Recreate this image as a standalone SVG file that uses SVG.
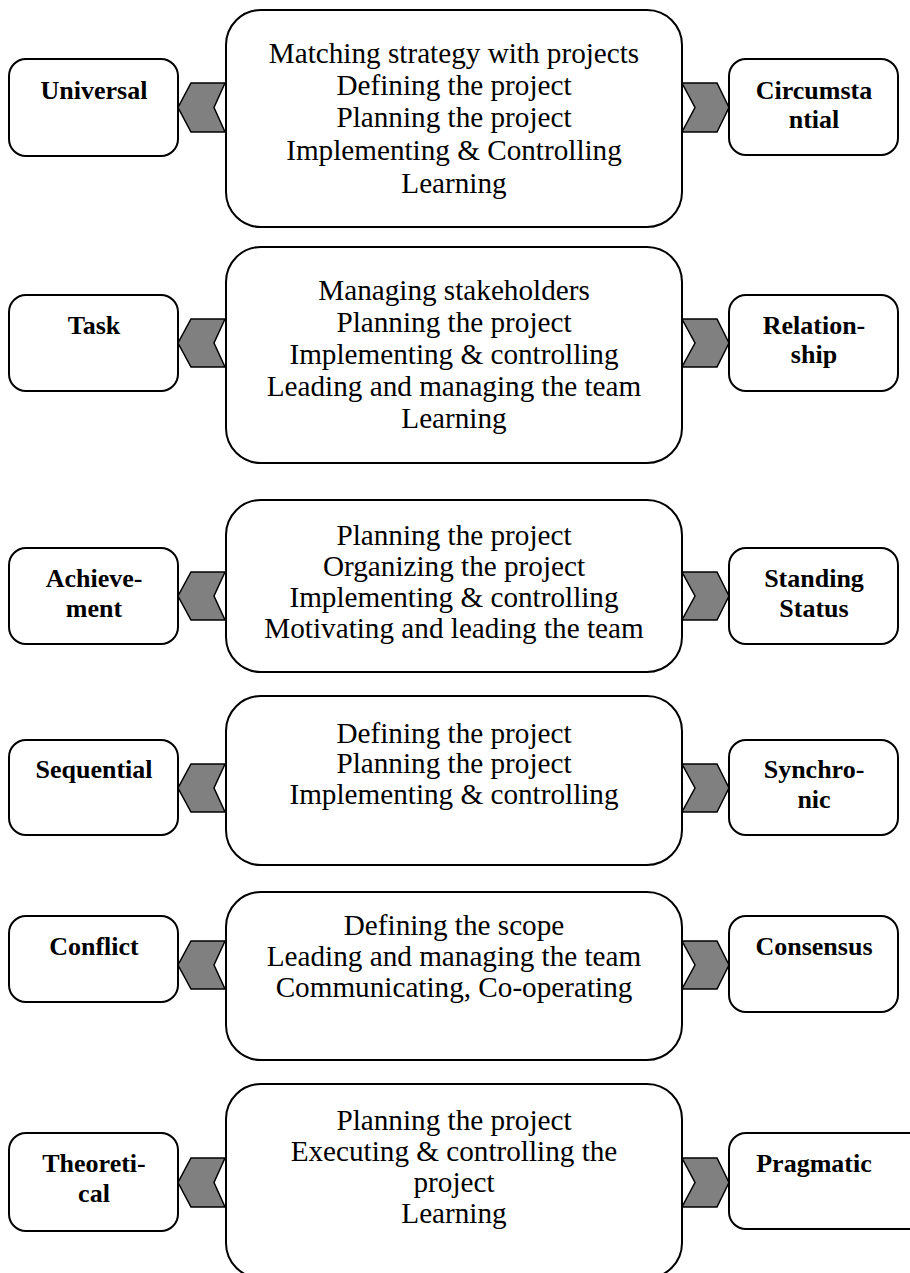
<svg xmlns="http://www.w3.org/2000/svg" width="910" height="1273" viewBox="0 0 910 1273">
<style>
.box{fill:#fff;stroke:#000;stroke-width:2}
.chev{fill:#808080;stroke:#000;stroke-width:1.5;stroke-linejoin:miter}
.ct{font-family:"Liberation Serif","Times New Roman",serif;font-size:29.2px;fill:#000;text-anchor:middle}
.lb{font-family:"Liberation Serif","Times New Roman",serif;font-size:26px;font-weight:bold;fill:#000;text-anchor:middle}
</style>
<rect width="910" height="1273" fill="#fff"/>
<g id="connectors">
<polygon class="chev" points="225,83 191,83 178,107.5 191,132 225,132 214,107.5"/>
<polygon class="chev" points="682,83 717,83 729,107.5 717,132 682,132 695,107.5"/>
<polygon class="chev" points="225,319 191,319 178,343 191,367 225,367 214,343"/>
<polygon class="chev" points="682,319 717,319 729,343 717,367 682,367 695,343"/>
<polygon class="chev" points="225,572 191,572 178,596 191,620 225,620 214,596"/>
<polygon class="chev" points="682,572 717,572 729,596 717,620 682,620 695,596"/>
<polygon class="chev" points="225,764 191,764 178,788 191,812 225,812 214,788"/>
<polygon class="chev" points="682,764 717,764 729,788 717,812 682,812 695,788"/>
<polygon class="chev" points="225,941 191,941 178,965 191,989 225,989 214,965"/>
<polygon class="chev" points="682,941 717,941 729,965 717,989 682,989 695,965"/>
<polygon class="chev" points="225,1158 191,1158 178,1182.5 191,1207 225,1207 214,1182.5"/>
<polygon class="chev" points="682,1158 717,1158 729,1182.5 717,1207 682,1207 695,1182.5"/>
</g>
<g id="row1-center"><rect class="box" x="226" y="10" width="456" height="217" rx="35"/>
<text class="ct" x="454" y="63">Matching strategy with projects</text>
<text class="ct" x="454" y="95">Defining the project</text>
<text class="ct" x="454" y="127">Planning the project</text>
<text class="ct" x="454" y="160">Implementing &amp; Controlling</text>
<text class="ct" x="454" y="193">Learning</text></g>
<g id="row1-left"><rect class="box" x="9" y="59" width="169" height="97" rx="17"/>
<text class="lb" x="94" y="99">Universal</text></g>
<g id="row1-right"><rect class="box" x="729" y="59" width="169" height="96" rx="17"/>
<text class="lb" x="814" y="99">Circumsta</text><text class="lb" x="814" y="128">ntial</text></g>

<g id="row2-center"><rect class="box" x="226" y="247" width="456" height="216" rx="35"/>
<text class="ct" x="454" y="300">Managing stakeholders</text>
<text class="ct" x="454" y="332">Planning the project</text>
<text class="ct" x="454" y="364">Implementing &amp; controlling</text>
<text class="ct" x="454" y="396">Leading and managing the team</text>
<text class="ct" x="454" y="428">Learning</text></g>
<g id="row2-left"><rect class="box" x="9" y="295" width="169" height="96" rx="17"/>
<text class="lb" x="94" y="334">Task</text></g>
<g id="row2-right"><rect class="box" x="729" y="295" width="169" height="96" rx="17"/>
<text class="lb" x="814" y="334">Relation-</text><text class="lb" x="814" y="363">ship</text></g>

<g id="row3-center"><rect class="box" x="226" y="500" width="456" height="172" rx="35"/>
<text class="ct" x="454" y="545">Planning the project</text>
<text class="ct" x="454" y="576">Organizing the project</text>
<text class="ct" x="454" y="607">Implementing &amp; controlling</text>
<text class="ct" x="454" y="638">Motivating and leading the team</text></g>
<g id="row3-left"><rect class="box" x="9" y="548" width="169" height="96" rx="17"/>
<text class="lb" x="94" y="587">Achieve-</text><text class="lb" x="94" y="617">ment</text></g>
<g id="row3-right"><rect class="box" x="729" y="548" width="169" height="96" rx="17"/>
<text class="lb" x="814" y="587">Standing</text><text class="lb" x="814" y="617">Status</text></g>

<g id="row4-center"><rect class="box" x="226" y="696" width="456" height="169" rx="35"/>
<text class="ct" x="454" y="743">Defining the project</text>
<text class="ct" x="454" y="773">Planning the project</text>
<text class="ct" x="454" y="804">Implementing &amp; controlling</text></g>
<g id="row4-left"><rect class="box" x="9" y="740" width="169" height="95" rx="17"/>
<text class="lb" x="94" y="778">Sequential</text></g>
<g id="row4-right"><rect class="box" x="729" y="740" width="169" height="95" rx="17"/>
<text class="lb" x="814" y="778">Synchro-</text><text class="lb" x="814" y="808">nic</text></g>

<g id="row5-center"><rect class="box" x="226" y="892" width="456" height="168" rx="35"/>
<text class="ct" x="454" y="935">Defining the scope</text>
<text class="ct" x="454" y="966">Leading and managing the team</text>
<text class="ct" x="454" y="997">Communicating, Co-operating</text></g>
<g id="row5-left"><rect class="box" x="9" y="916" width="169" height="86" rx="17"/>
<text class="lb" x="94" y="955">Conflict</text></g>
<g id="row5-right"><rect class="box" x="729" y="916" width="169" height="96" rx="17"/>
<text class="lb" x="814" y="955">Consensus</text></g>

<g id="row6-center"><rect class="box" x="226" y="1084" width="456" height="194" rx="35"/>
<text class="ct" x="454" y="1130">Planning the project</text>
<text class="ct" x="454" y="1161">Executing &amp; controlling the</text>
<text class="ct" x="454" y="1192">project</text>
<text class="ct" x="454" y="1223">Learning</text></g>
<g id="row6-left"><rect class="box" x="9" y="1133" width="169" height="98" rx="17"/>
<text class="lb" x="94" y="1172">Theoreti-</text><text class="lb" x="94" y="1202">cal</text></g>
<g id="row6-right"><rect class="box" x="729" y="1133" width="200" height="96" rx="17"/>
<text class="lb" x="814" y="1172">Pragmatic</text></g>
</svg>
